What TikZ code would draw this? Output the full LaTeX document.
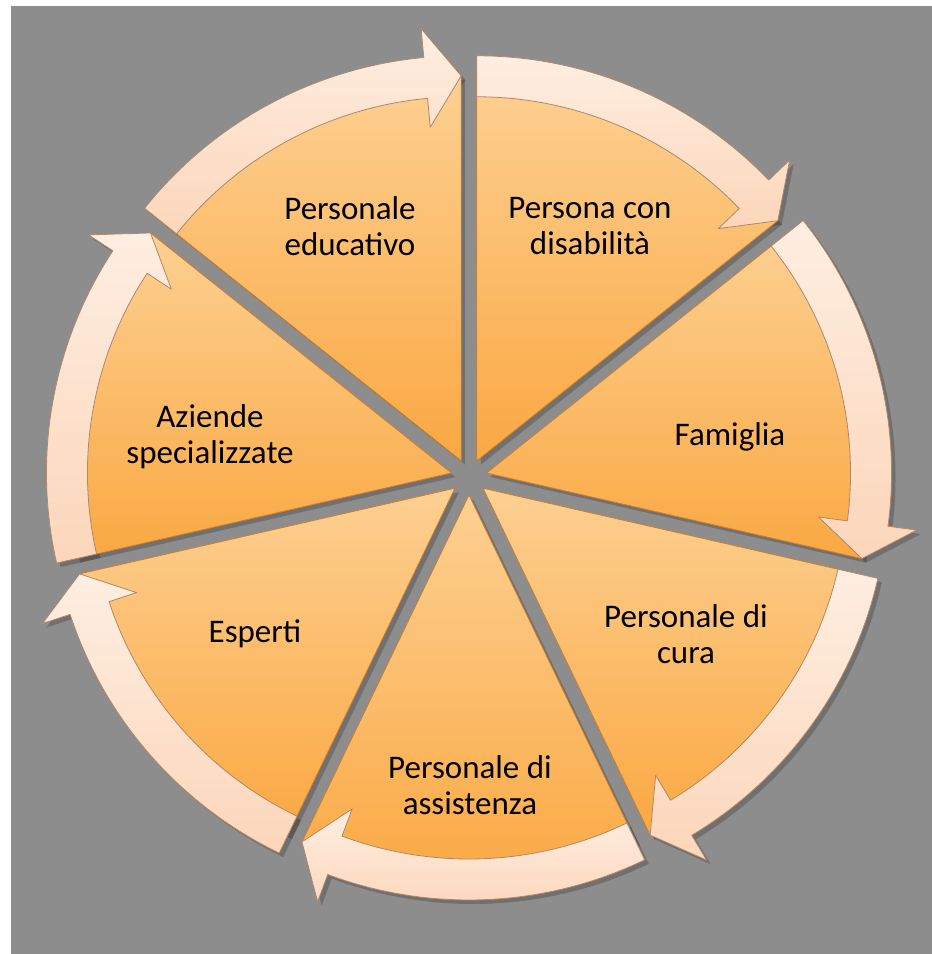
\documentclass[tikz,border=0pt]{standalone}
\usepackage{fontspec}
\setmainfont{Carlito}

\definecolor{bggray}{RGB}{141,141,141}
\definecolor{wedgelight}{RGB}{253,208,146}
\definecolor{wedgedark}{RGB}{250,168,66}
\definecolor{wedgeedge}{RGB}{205,125,45}
\definecolor{ringlight}{RGB}{254,238,225}
\definecolor{ringdark}{RGB}{252,214,186}
\definecolor{ringedge}{RGB}{175,135,105}

\tikzset{
  wedge/.style={top color=wedgelight, bottom color=wedgedark, draw=wedgeedge, line width=0.8bp},
  ringarrow/.style={top color=ringlight, bottom color=ringdark, draw=ringedge, line width=0.8bp, line join=round},
  dropshadow/.style={fill=black, opacity=0.2},
  sectortext/.style={align=center, text=black, font=\fontsize{33bp}{36bp}\selectfont}
}

\begin{document}
\begin{tikzpicture}[x=1bp, y=1bp]
  % canvas
  \useasboundingbox (-469,-477) rectangle (463,477);
  \fill[white] (-469,-477) rectangle (463,477);
  \fill[bggray] (-458,-477) rectangle (463,471);

  % Set the radii of wedges and ring
  \def\wedgeR{385}
  \def\ringout{405}
  \def\ringin{364}
  \def\ringmid{385}
  \def\headout{434}
  \def\headin{335}

  % shadows first
  \foreach \i in {0,...,6} {
    \pgfmathsetmacro\bis{64.2857-51.4286*\i}
    \pgfmathsetmacro\astart{\bis+25.7143}
    \pgfmathsetmacro\aend{\bis-25.7143}
    \pgfmathsetmacro\ahead{\aend+5.3}
    \begin{scope}[shift={(\bis:18)}, xshift=4bp, yshift=-4bp]
      \fill[dropshadow] (0,0) -- (\astart:\wedgeR) arc[start angle=\astart, end angle=\aend, radius=\wedgeR bp] -- cycle;
      \fill[dropshadow] (\astart:\ringout) arc[start angle=\astart, end angle=\ahead, radius=\ringout bp]
        -- (\ahead:\headout) -- (\aend:\ringmid) -- (\ahead:\headin) -- (\ahead:\ringin)
        arc[start angle=\ahead, end angle=\astart, radius=\ringin bp] -- cycle;
    \end{scope}
  }

  % wedges and the arrow pieces of the ring
  \foreach \i in {0,...,6} {
    \pgfmathsetmacro\bis{64.2857-51.4286*\i}
    \pgfmathsetmacro\astart{\bis+25.7143}
    \pgfmathsetmacro\aend{\bis-25.7143}
    \pgfmathsetmacro\ahead{\aend+5.3}
    \begin{scope}[shift={(\bis:18)}]
      \path[wedge] (0,0) -- (\astart:\wedgeR) arc[start angle=\astart, end angle=\aend, radius=\wedgeR bp] -- cycle;
      \path[ringarrow] (\astart:\ringout) arc[start angle=\astart, end angle=\ahead, radius=\ringout bp]
        -- (\ahead:\headout) -- (\aend:\ringmid) -- (\ahead:\headin) -- (\ahead:\ringin)
        arc[start angle=\ahead, end angle=\astart, radius=\ringin bp] -- cycle;
    \end{scope}
  }

  % sector texts
  \node[sectortext] (persona) at (121,251) {Persona con\\disabilità};
  \node[sectortext] (famiglia) at (261,40) {Famiglia};
  \node[sectortext] (cura) at (217,-157) {Personale di\\cura};
  \node[sectortext] (assistenza) at (1,-308) {Personale di\\assistenza};
  \node[sectortext] (esperti) at (-214,-157) {Esperti};
  \node[sectortext] (aziende) at (-259,40) {Aziende\\specializzate};
  \node[sectortext] (educativo) at (-119,251) {Personale\\educativo};
\end{tikzpicture}
\end{document}
